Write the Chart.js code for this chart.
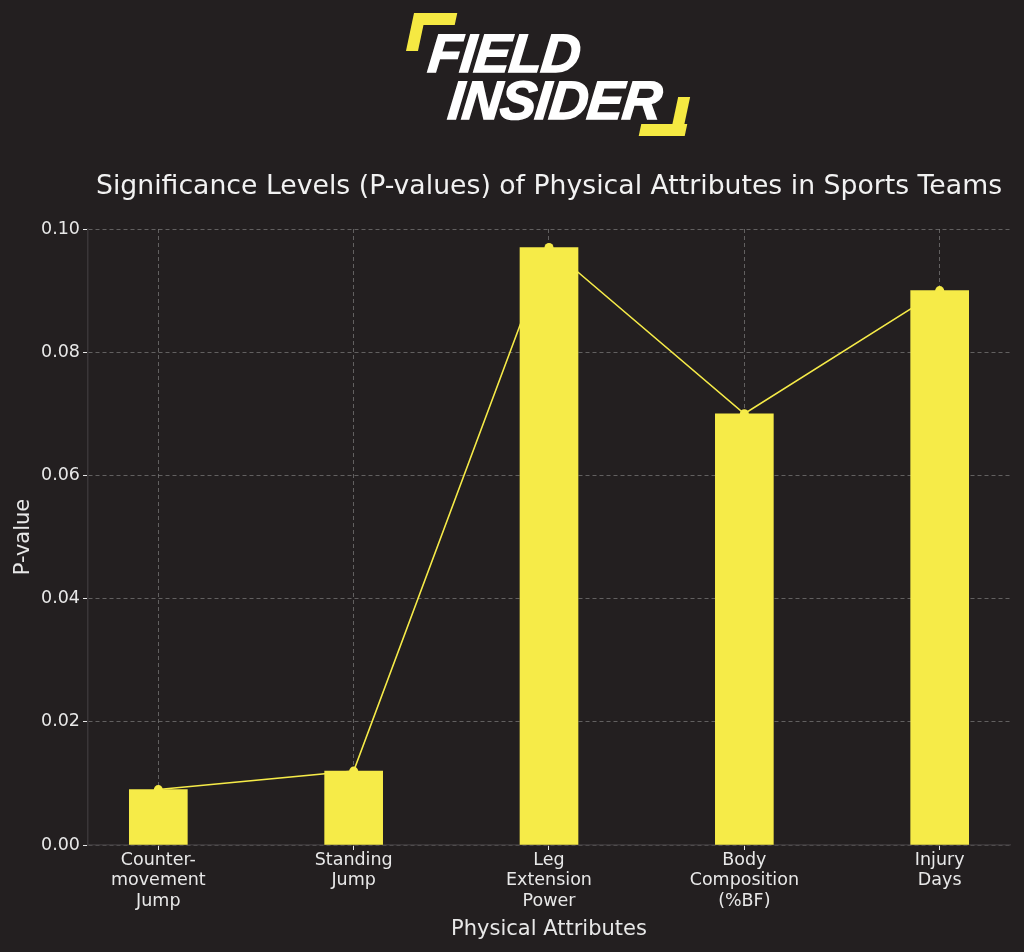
<!DOCTYPE html>
<html lang="en">
<head>
<meta charset="utf-8">
<title>Significance Levels</title>
<script src="https://cdn.jsdelivr.net/npm/chart.js@4.4.1/dist/chart.umd.min.js"></script>
<style>
  html, body { margin: 0; padding: 0; background: #231f20; }
  #wrap { position: relative; width: 1024px; height: 952px; }
  #logo { position: absolute; left: 0; top: 0; width: 1024px; height: 150px; }
  .brk { position: absolute; background: #f5e942; transform: skewX(-12deg); }
  .logotxt { position: absolute; color: #fff; font-family: "Liberation Sans", Arial, sans-serif;
             font-weight: bold; font-style: italic; font-size: 54px; line-height: 1; letter-spacing: -1px;
             -webkit-text-stroke: 1.5px #fff; transform: skewX(-6deg); transform-origin: left bottom; }
</style>
</head>
<body>
<div id="wrap">
  <canvas id="chart" width="1024" height="952"></canvas>
  <!-- logo -->
  <div id="logo">
    <div class="brk" style="left:414px; top:13px; width:42px; height:12px;"></div>
    <div class="brk" style="left:410px; top:13px; width:12px; height:38px;"></div>
    <div class="logotxt" style="left:426px; top:26px;">FIELD</div>
    <div class="logotxt" style="left:446px; top:73px;">INSIDER</div>
    <div class="brk" style="left:674px; top:97px; width:12px; height:39px;"></div>
    <div class="brk" style="left:640px; top:124px; width:46px; height:12px;"></div>
  </div>
</div>
<script>
// data
const categories = [
  ["Counter-", "movement", "Jump"],
  ["Standing", "Jump"],
  ["Leg", "Extension", "Power"],
  ["Body", "Composition", "(%BF)"],
  ["Injury", "Days"]
];
const pValues = [0.009, 0.012, 0.097, 0.070, 0.090];
const yTicks = [0, 0.02, 0.04, 0.06, 0.08, 0.10];

const yellow = "#f6eb48";
const textCol = "#e8e8e8";
const gridCol = "rgba(140,140,140,0.6)";

const points = pValues.map((v, i) => ({ x: i, y: v }));

// title centred over the plot area (like matplotlib)
const titlePlugin = {
  id: "areaTitle",
  afterDraw(chart) {
    const ctx = chart.ctx, a = chart.chartArea;
    ctx.save();
    ctx.fillStyle = "#f2f2f2";
    ctx.font = "26.7px 'DejaVu Sans'";
    ctx.textAlign = "center";
    ctx.textBaseline = "alphabetic";
    ctx.fillText("Significance Levels (P-values) of Physical Attributes in Sports Teams", (a.left + a.right) / 2, 194);
    ctx.restore();
  }
};

new Chart(document.getElementById("chart"), {
  data: {
    datasets: [
      {
        type: "bar",
        data: points,
        backgroundColor: yellow,
        barThickness: 58,
        order: 1
      },
      {
        type: "line",
        data: points,
        borderColor: yellow,
        borderWidth: 1.6,
        pointRadius: 4.5,
        pointBackgroundColor: yellow,
        pointBorderWidth: 0,
        order: 2
      }
    ]
  },
  options: {
    responsive: false,
    animation: false,
    layout: { padding: { top: 229, right: 14, left: 0, bottom: 0 } },
    plugins: { legend: { display: false }, tooltip: { enabled: false }, title: { display: false } },
    scales: {
      x: {
        type: "linear",
        min: -0.36,
        max: 4.36,
        offset: false,
        z: 1,
        afterBuildTicks(s) { s.ticks = categories.map((c, i) => ({ value: i })); },
        afterFit(s) { s.height = 107; },
        ticks: {
          color: textCol,
          font: { family: "DejaVu Sans", size: 17.5, lineHeight: 1.17 },
          padding: 0,
          maxRotation: 0,
          autoSkip: false,
          callback: (v) => categories[v]
        },
        grid: { offset: false, color: gridCol, tickBorderDash: [], tickColor: "#e8e8e8", tickLength: 5, lineWidth: 1 },
        border: { display: true, color: "#3a3638", width: 1.5, dash: [4, 3] },
        title: { display: true, text: "Physical Attributes", color: textCol, font: { family: "DejaVu Sans", size: 21 }, padding: { top: 0, bottom: 10 } }
      },
      y: {
        min: 0,
        max: 0.1,
        afterBuildTicks(s) { s.ticks = yTicks.map(v => ({ value: v })); },
        afterFit(s) { s.width = 88; },
        ticks: {
          color: textCol,
          font: { family: "DejaVu Sans", size: 17.5 },
          padding: 3,
          callback: (v) => v.toFixed(2)
        },
        grid: { color: gridCol, tickBorderDash: [], tickColor: "#e8e8e8", tickLength: 5, lineWidth: 1 },
        border: { display: true, color: "#3a3638", width: 1.5, dash: [4, 3] },
        title: { display: true, text: "P-value", color: textCol, font: { family: "DejaVu Sans", size: 21 }, padding: { top: 11, bottom: 0 } }
      }
    }
  },
  plugins: [titlePlugin]
});
</script>
</body>
</html>
